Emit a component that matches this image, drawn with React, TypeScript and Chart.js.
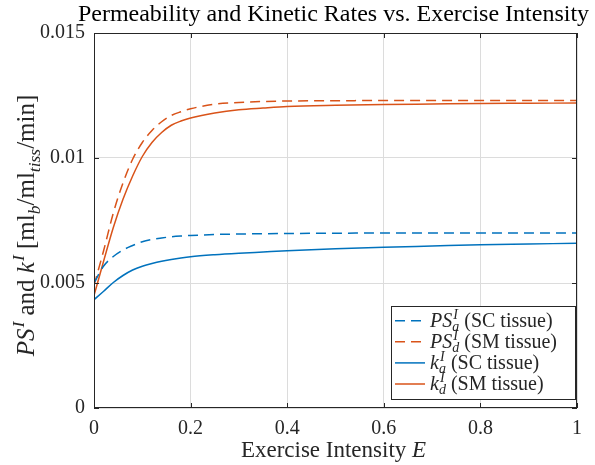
import React, { useEffect, useRef } from "react";
import { Chart, registerables } from "chart.js";

Chart.register(...registerables);

// ---------- data ----------
const intensity = [0, 0.02, 0.04, 0.06, 0.08, 0.1, 0.12, 0.14, 0.16, 0.18, 0.2, 0.25, 0.3, 0.35, 0.4, 0.5, 0.6, 0.7, 0.8, 0.9, 1.0];
const psA = [0.005, 0.00568, 0.00606, 0.00632, 0.0065, 0.00665, 0.00674, 0.0068, 0.00685, 0.00688, 0.0069, 0.00694, 0.00696, 0.00697, 0.00698, 0.00699, 0.007, 0.007, 0.007, 0.007, 0.007];
const psD = [0.0049, 0.0063, 0.0078, 0.009, 0.00995, 0.01062, 0.0111, 0.01145, 0.0117, 0.01185, 0.01197, 0.01215, 0.01222, 0.01226, 0.01228, 0.01229, 0.0123, 0.0123, 0.0123, 0.0123, 0.0123];
const kA = [0.00433, 0.00467, 0.00502, 0.0053, 0.00552, 0.00567, 0.00578, 0.00587, 0.00594, 0.006, 0.00605, 0.00613, 0.00619, 0.00624, 0.00629, 0.00637, 0.00643, 0.00648, 0.00653, 0.00656, 0.00659];
const kD = [0.0045, 0.00588, 0.00722, 0.00835, 0.00928, 0.01006, 0.01062, 0.01102, 0.01131, 0.01148, 0.0116, 0.0118, 0.01193, 0.012, 0.01206, 0.01211, 0.01214, 0.01216, 0.01218, 0.01219, 0.0122];

const xTickLabels = ["0", "0.2", "0.4", "0.6", "0.8", "1"];
const yTickLabels = ["0", "0.005", "0.01", "0.015"];

const titleText = "Permeability and Kinetic Rates vs. Exercise Intensity";

const BLUE = "#0072BD";
const ORANGE = "#D95319";
const AX = "#262626";
const FAM = '"Liberation Serif", "Times New Roman", serif';

type Seg = { t: string; it?: boolean; sup?: string; sub?: string };

const xLabelSegs: Seg[] = [{ t: "Exercise Intensity " }, { t: "E", it: true }];
const yLabelSegs: Seg[] = [
  { t: "PS", it: true, sup: "I" },
  { t: " and " },
  { t: "k", it: true, sup: "I" },
  { t: " [ml", sub: "b" },
  { t: "/ml", sub: "tiss" },
  { t: "/min]" },
];

const legendItems: { segs: Seg[]; color: string; dashed: boolean }[] = [
  { segs: [{ t: "PS", it: true, sup: "I", sub: "a" }, { t: " (SC tissue)" }], color: BLUE, dashed: true },
  { segs: [{ t: "PS", it: true, sup: "I", sub: "d" }, { t: " (SM tissue)" }], color: ORANGE, dashed: true },
  { segs: [{ t: "k", it: true, sup: "I", sub: "a" }, { t: " (SC tissue)" }], color: BLUE, dashed: false },
  { segs: [{ t: "k", it: true, sup: "I", sub: "d" }, { t: " (SM tissue)" }], color: ORANGE, dashed: false },
];

const font = (it: boolean | undefined, size: number) => `${it ? "italic " : ""}${size}px ${FAM}`;

function richWidth(ctx: CanvasRenderingContext2D, segs: Seg[], size: number) {
  let w = 0;
  for (const s of segs) {
    ctx.font = font(s.it, size);
    w += ctx.measureText(s.t).width;
    let sw = 0;
    ctx.font = font(true, size * 0.7);
    if (s.sup) sw = Math.max(sw, ctx.measureText(s.sup).width + (s.it ? 1 : 0));
    if (s.sub) sw = Math.max(sw, ctx.measureText(s.sub).width);
    w += sw;
  }
  return w;
}

function drawRich(ctx: CanvasRenderingContext2D, segs: Seg[], x: number, y: number, size: number, align: "left" | "center", color: string) {
  ctx.save();
  ctx.fillStyle = color;
  ctx.textBaseline = "alphabetic";
  ctx.textAlign = "left";
  let cx = align === "center" ? x - richWidth(ctx, segs, size) / 2 : x;
  for (const s of segs) {
    ctx.font = font(s.it, size);
    ctx.fillText(s.t, cx, y);
    cx += ctx.measureText(s.t).width;
    let sw = 0;
    ctx.font = font(true, size * 0.7);
    if (s.sup) {
      const off = s.it ? 1 : 0;
      ctx.fillText(s.sup, cx + off, y - size * 0.4);
      sw = Math.max(sw, ctx.measureText(s.sup).width + off);
    }
    if (s.sub) {
      ctx.fillText(s.sub, cx, y + size * 0.22);
      sw = Math.max(sw, ctx.measureText(s.sub).width);
    }
    cx += sw;
  }
  ctx.restore();
}

const decorPlugin = {
  id: "decor",
  afterDraw(chart: any) {
    const ctx: CanvasRenderingContext2D = chart.ctx;
    const a = chart.chartArea;
    const xs = chart.scales.x;
    const ys = chart.scales.y;
    ctx.save();
    // box
    ctx.strokeStyle = AX;
    ctx.lineWidth = 1;
    ctx.strokeRect(a.left + 0.5, a.top + 0.5, a.right - a.left - 1, a.bottom - a.top - 1);
    // inward ticks
    const tl = 5;
    ctx.beginPath();
    xs.ticks.forEach((t: any) => {
      const px = Math.round(xs.getPixelForValue(t.value)) + 0.5;
      ctx.moveTo(px, a.bottom);
      ctx.lineTo(px, a.bottom - tl);
      ctx.moveTo(px, a.top);
      ctx.lineTo(px, a.top + tl);
    });
    ys.ticks.forEach((t: any) => {
      const py = Math.round(ys.getPixelForValue(t.value)) + 0.5;
      ctx.moveTo(a.left, py);
      ctx.lineTo(a.left + tl, py);
      ctx.moveTo(a.right, py);
      ctx.lineTo(a.right - tl, py);
    });
    ctx.stroke();

    // title
    drawRich(ctx, [{ t: titleText }], (a.left + a.right) / 2 - 2, 21, 24, "center", "#000");
    // x label
    drawRich(ctx, xLabelSegs, (a.left + a.right) / 2 - 2, 457, 23, "center", AX);
    // y label
    ctx.save();
    ctx.translate(34, (a.top + a.bottom) / 2 + 5);
    ctx.rotate(-Math.PI / 2);
    drawRich(ctx, yLabelSegs, 0, 0, 25, "center", AX);
    ctx.restore();

    // legend
    const lx = 391, ly = 306, lw = 184, lh = 93;
    ctx.fillStyle = "#fff";
    ctx.fillRect(lx, ly, lw, lh);
    ctx.strokeStyle = AX;
    ctx.lineWidth = 1;
    ctx.strokeRect(lx + 0.5, ly + 0.5, lw, lh);
    legendItems.forEach((it, i) => {
      const cy = 320.7 + i * 21.1;
      ctx.beginPath();
      ctx.strokeStyle = it.color;
      ctx.lineWidth = 1.5;
      ctx.setLineDash(it.dashed ? [10, 6] : []);
      ctx.moveTo(395, cy);
      ctx.lineTo(425, cy);
      ctx.stroke();
      ctx.setLineDash([]);
      drawRich(ctx, it.segs, 430, cy + 6, 20, "left", AX);
    });
    ctx.restore();
  },
};

function series(vals: number[]) {
  return intensity.map((x, i) => ({ x, y: vals[i] }));
}

export default function App() {
  const ref = useRef<HTMLCanvasElement | null>(null);
  useEffect(() => {
    if (!ref.current) return;
    const mk = (label: string, vals: number[], color: string, dashed: boolean) => ({
      label,
      data: series(vals),
      borderColor: color,
      backgroundColor: color,
      borderWidth: 1.5,
      borderDash: dashed ? [10, 6] : [],
      pointRadius: 0,
      cubicInterpolationMode: "monotone" as const,
      fill: false,
    });
    const chart = new Chart(ref.current, {
      type: "line",
      data: {
        datasets: [
          mk("PSa", psA, BLUE, true),
          mk("PSd", psD, ORANGE, true),
          mk("ka", kA, BLUE, false),
          mk("kd", kD, ORANGE, false),
        ],
      },
      options: {
        animation: false,
        responsive: false,
        layout: { padding: { top: 33, right: 18, left: 0, bottom: 0 } },
        plugins: { legend: { display: false }, title: { display: false }, tooltip: { enabled: false } },
        scales: {
          x: {
            type: "linear",
            min: 0,
            max: 1,
            ticks: {
              stepSize: 0.2,
              padding: 9,
              color: AX,
              font: { family: FAM, size: 20 },
              maxRotation: 0,
              callback: (_v: any, i: number) => xTickLabels[i],
            },
            grid: { color: "#dcdcdc", drawTicks: false, lineWidth: 1 },
            border: { display: false },
            afterFit: (s: any) => {
              s.height = 57;
            },
          },
          y: {
            type: "linear",
            min: 0,
            max: 0.015,
            ticks: {
              stepSize: 0.005,
              padding: 9,
              color: AX,
              font: { family: FAM, size: 20 },
              callback: (_v: any, i: number) => yTickLabels[i],
            },
            grid: { color: "#dcdcdc", drawTicks: false, lineWidth: 1 },
            border: { display: false },
            afterFit: (s: any) => {
              s.width = 94;
            },
          },
        },
      },
      plugins: [decorPlugin],
    });
    return () => chart.destroy();
  }, []);
  return (
    <div style={{ position: "absolute", left: 0, top: 0, width: 595, height: 465, background: "#fff" }}>
      <canvas ref={ref} width={595} height={465} style={{ display: "block" }} />
    </div>
  );
}
